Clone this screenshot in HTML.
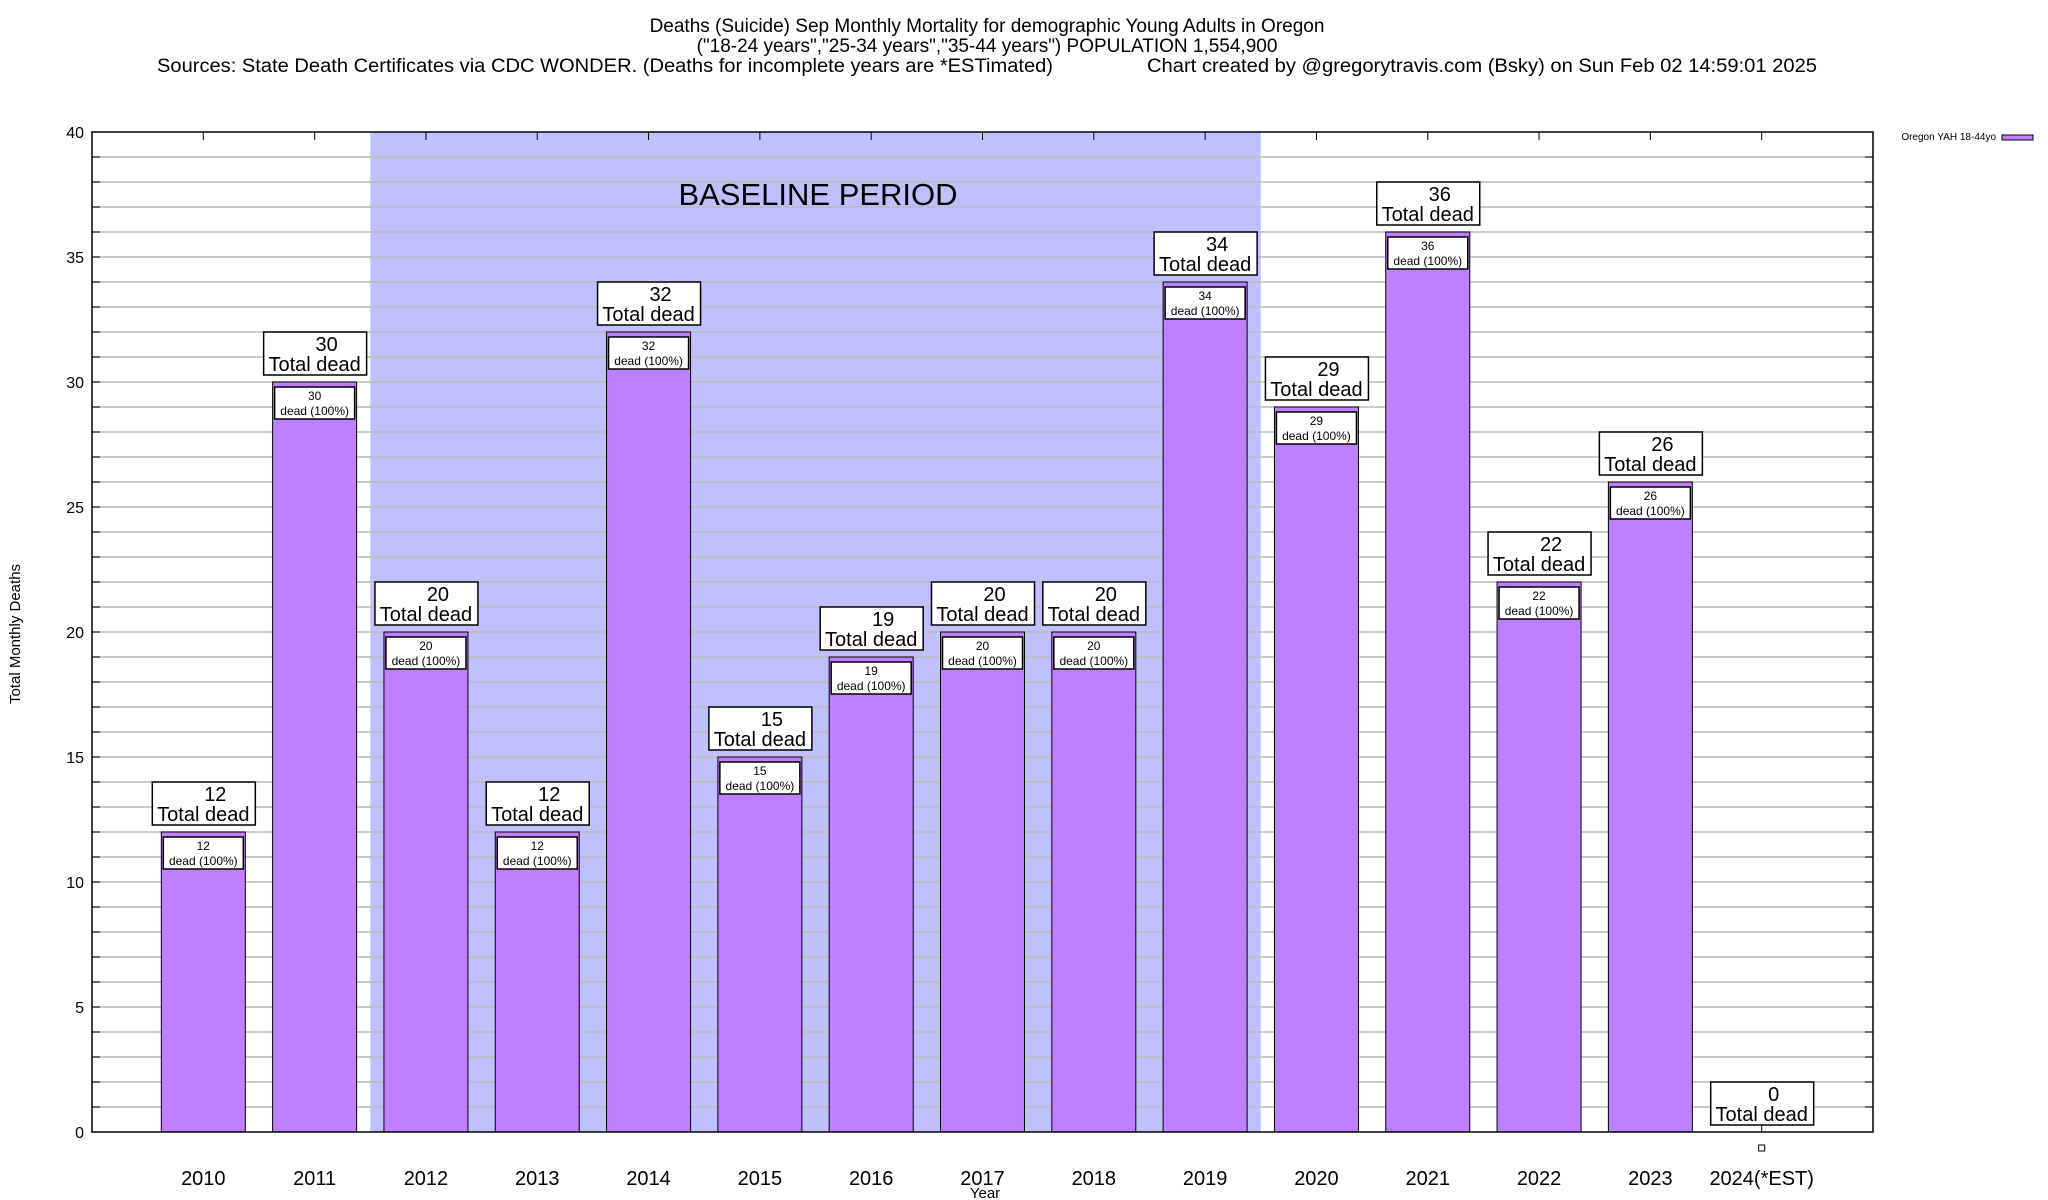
<!DOCTYPE html>
<html><head><meta charset="utf-8"><style>
body{margin:0;background:#fff;}
svg{display:block;font-family:"Liberation Sans",Arial,sans-serif;}
</style></head><body>
<svg id="chart" width="2048" height="1200" xmlns="http://www.w3.org/2000/svg">
<g font-size="19" fill="#000">
<text x="987" y="32" text-anchor="middle">Deaths (Suicide) Sep Monthly Mortality for demographic Young Adults in Oregon</text>
<text x="987" y="52" text-anchor="middle">("18-24 years","25-34 years","35-44 years") POPULATION 1,554,900</text>
<text x="157" y="72" textLength="896" lengthAdjust="spacingAndGlyphs">Sources: State Death Certificates via CDC WONDER. (Deaths for incomplete years are *ESTimated)</text>
<text x="1147" y="72" textLength="670" lengthAdjust="spacingAndGlyphs">Chart created by @gregorytravis.com (Bsky) on Sun Feb 02 14:59:01 2025</text>
</g>
<g id="plot"></g>
</svg>
<script>
const categories=["2010","2011","2012","2013","2014","2015","2016","2017","2018","2019","2020","2021","2022","2023","2024(*EST)"];
const deaths=[12,30,20,12,32,15,19,20,20,34,29,36,22,26,0];
const yTicks=[0,5,10,15,20,25,30,35,40];
const baselineRange=[2,9];
const L=92,R=1873,T=132,B=1132,YMAX=40;
const step=(R-L)/(categories.length+1);
function xs(i){return L+(i+1)*step;}
function ys(v){return B-(B-T)*v/YMAX;}
const NS="http://www.w3.org/2000/svg";
const g=document.getElementById('plot');
function mk(tag,attrs,parent){const e=document.createElementNS(NS,tag);for(const k in attrs)e.setAttribute(k,attrs[k]);(parent||g).appendChild(e);return e;}
let sh=mk('rect',{x:xs(baselineRange[0])-step/2,y:T,width:(baselineRange[1]-baselineRange[0]+1)*step,height:B-T,fill:'#c0c0ff'});


for(let v=1;v<YMAX;v++){let l=mk('line',{x1:L,x2:R,y1:ys(v),y2:ys(v),stroke:'#bbbbbb','stroke-width':1.5});


let t1=mk('line',{x1:L,x2:L+8,y1:ys(v),y2:ys(v),stroke:'#000'});


let t2=mk('line',{x1:R-8,x2:R,y1:ys(v),y2:ys(v),stroke:'#000'});

}
let bt=mk('text',{x:818,y:205,'font-size':31,'text-anchor':'middle'});bt.textContent='BASELINE PERIOD';


yTicks.forEach(v=>{let t=mk('text',{x:84,y:ys(v)+6,'font-size':16,'text-anchor':'end'});t.textContent=v;

});
categories.forEach((c,i)=>{
 const cx=xs(i),v=deaths[i],w=84;
 let tk=mk('line',{x1:cx,x2:cx,y1:T,y2:T+8,stroke:'#000'});
 
 
 let tb=mk('line',{x1:cx,x2:cx,y1:B-8,y2:B,stroke:'#000'});
 
 
 if(v>0){
  let b=mk('rect',{x:cx-w/2,y:ys(v),width:w,height:B-ys(v),fill:'#bf80ff',stroke:'#000','stroke-width':1});
  
  
  let ib=mk('rect',{x:cx-w/2+2,y:ys(v)+5,width:w-4,height:32,fill:'#fff',stroke:'#000','stroke-width':1.5});
  
  
  let it=mk('text',{x:cx,y:ys(v)+18,'font-size':12,'text-anchor':'middle'});it.textContent=v;
  
  
  let it2=mk('text',{x:cx,y:ys(v)+33,'font-size':12,'text-anchor':'middle'});it2.textContent='dead (100%)';
  
  
 } else {
  let m=mk('rect',{x:cx-3,y:B+13,width:6,height:6,fill:'#fff',stroke:'#000'});
  
  
 }
 const by=ys(v)-7-43;
 let lb=mk('rect',{x:cx-51,y:by,width:103,height:43,fill:'#fff',stroke:'#000','stroke-width':1.5});
 
 
 let t1=mk('text',{x:cx+12,y:by+19,'font-size':20,'text-anchor':'middle'});t1.textContent=v;
 
 
 let t2=mk('text',{x:cx,y:by+39,'font-size':20,'text-anchor':'middle'});t2.textContent='Total dead';
 
 
 let xl=mk('text',{x:cx,y:1185,'font-size':20,'text-anchor':'middle'});xl.textContent=c;
 
 
});
let fr=mk('rect',{x:L,y:T,width:R-L,height:B-T,fill:'none',stroke:'#000','stroke-width':1.5});


let xt=mk('text',{x:985,y:1198,'font-size':15,'text-anchor':'middle'});xt.textContent='Year';


let yt=mk('text',{x:0,y:0,'font-size':15,'text-anchor':'middle',transform:'translate(20,634) rotate(-90)'});yt.textContent='Total Monthly Deaths';


let lt=mk('text',{x:1996,y:140,'font-size':10,'text-anchor':'end'});lt.textContent='Oregon YAH 18-44yo';


let ls=mk('rect',{x:2002,y:135,width:31,height:5,fill:'#bf80ff',stroke:'#000'});


</script>
</body></html>
